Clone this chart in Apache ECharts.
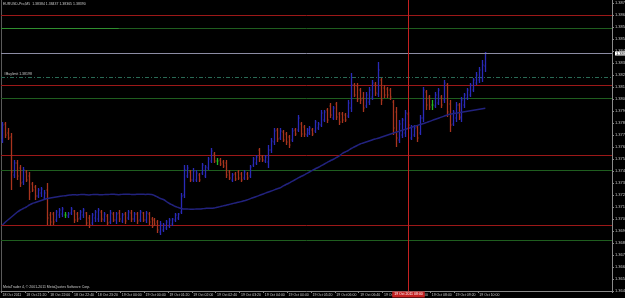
<!DOCTYPE html>
<html><head><meta charset="utf-8">
<script src="https://cdn.jsdelivr.net/npm/echarts@6/dist/echarts.min.js"></script>
<style>html,body{margin:0;padding:0;background:#000;}#c{width:625px;height:298px;}</style>
</head><body><div id="c"></div>
<script>
// ---- data ----
const timeLabels = ["18 Oct 2011","18 Oct 21:20","18 Oct 22:00","18 Oct 22:40","18 Oct 23:20","19 Oct 00:00","19 Oct 00:40","19 Oct 01:20","19 Oct 02:00","19 Oct 02:40","19 Oct 03:20","19 Oct 04:00","19 Oct 04:40","19 Oct 05:20","19 Oct 06:00","19 Oct 06:40","19 Oct 07:20","19 Oct 08:00","19 Oct 08:40","19 Oct 09:20","19 Oct 10:00"];
const open = [1.37694,1.37822,1.37750,1.37718,1.37414,1.37510,1.37470,1.37358,1.37438,1.37406,
1.37342,1.37318,1.37246,1.37270,1.37230,1.37294,1.37094,1.37102,1.37054,1.37094,
1.37102,1.37094,1.37086,1.37110,1.37126,1.37102,1.37070,1.37094,1.37110,1.37070,
1.37030,1.37070,1.37062,1.37118,1.37054,1.37086,1.37038,1.37102,1.37054,1.37110,
1.37046,1.37102,1.37070,1.37110,1.37062,1.37102,1.37054,1.37110,1.37054,1.37102,
1.37062,1.37054,1.37038,1.36958,1.36974,1.36990,1.37006,1.37022,1.37054,1.37070,
1.37118,1.37254,1.37406,1.37438,1.37374,1.37374,1.37414,1.37430,1.37406,1.37470,
1.37526,1.37582,1.37526,1.37534,1.37518,1.37510,1.37438,1.37374,1.37422,1.37438,
1.37422,1.37390,1.37422,1.37406,1.37494,1.37510,1.37614,1.37558,1.37526,1.37518,
1.37614,1.37678,1.37774,1.37710,1.37758,1.37742,1.37718,1.37694,1.37774,1.37774,
1.37822,1.37798,1.37734,1.37750,1.37774,1.37766,1.37790,1.37814,1.37854,1.37934,
1.37966,1.37870,1.37982,1.37902,1.37902,1.37894,1.37886,1.37950,1.38134,1.38126,
1.38094,1.38030,1.37966,1.37998,1.38038,1.38142,1.38062,1.38174,1.38110,1.38102,
1.38094,1.37998,1.37918,1.37694,1.37734,1.37750,1.37902,1.37710,1.37734,1.37798,
1.37750,1.37870,1.38078,1.38038,1.37974,1.37966,1.37990,1.38038,1.38014,1.38134,
1.37982,1.37822,1.37870,1.37974,1.37870,1.37974,1.38030,1.38054,1.38094,1.38150,
1.38174,1.38190,1.38286];
const high = [1.37838,1.37838,1.37790,1.37750,1.37534,1.37534,1.37494,1.37478,1.37454,1.37438,
1.37358,1.37334,1.37310,1.37318,1.37294,1.37350,1.37118,1.37118,1.37134,1.37150,
1.37158,1.37118,1.37118,1.37158,1.37134,1.37118,1.37134,1.37150,1.37118,1.37094,
1.37110,1.37134,1.37150,1.37134,1.37118,1.37102,1.37134,1.37118,1.37118,1.37134,
1.37110,1.37118,1.37134,1.37134,1.37118,1.37118,1.37134,1.37118,1.37126,1.37118,
1.37078,1.37070,1.37054,1.37046,1.37030,1.37054,1.37070,1.37070,1.37110,1.37110,
1.37270,1.37494,1.37494,1.37454,1.37470,1.37454,1.37430,1.37510,1.37494,1.37558,
1.37630,1.37598,1.37550,1.37550,1.37534,1.37534,1.37454,1.37430,1.37438,1.37454,
1.37438,1.37454,1.37438,1.37494,1.37558,1.37574,1.37630,1.37574,1.37574,1.37654,
1.37710,1.37790,1.37790,1.37790,1.37774,1.37758,1.37734,1.37790,1.37790,1.37894,
1.37838,1.37814,1.37790,1.37806,1.37790,1.37854,1.37838,1.37934,1.37934,1.37950,
1.37990,1.37966,1.37998,1.37918,1.37918,1.37910,1.38014,1.38230,1.38150,1.38150,
1.38110,1.38078,1.38078,1.38118,1.38174,1.38158,1.38318,1.38190,1.38134,1.38118,
1.38110,1.38014,1.37958,1.37854,1.37870,1.37934,1.37918,1.37814,1.37814,1.37814,
1.37894,1.38118,1.38094,1.38054,1.38014,1.38078,1.38110,1.38054,1.38174,1.38150,
1.38014,1.37934,1.37998,1.37990,1.38038,1.38070,1.38110,1.38150,1.38190,1.38238,
1.38278,1.38334,1.38398];
const low = [1.37670,1.37710,1.37694,1.37294,1.37390,1.37374,1.37318,1.37334,1.37358,1.37214,
1.37278,1.37214,1.37230,1.37238,1.37214,1.37014,1.37006,1.37014,1.37038,1.37070,
1.37078,1.37070,1.37070,1.37094,1.37030,1.37038,1.37054,1.37070,1.37006,1.36990,
1.37014,1.37038,1.37038,1.37038,1.37038,1.37014,1.37022,1.37038,1.37022,1.37038,
1.37030,1.37022,1.37054,1.37038,1.37038,1.37022,1.37038,1.37038,1.37030,1.37014,
1.36990,1.37006,1.36950,1.36934,1.36958,1.36974,1.36990,1.37006,1.37038,1.37054,
1.37102,1.37230,1.37390,1.37358,1.37358,1.37358,1.37358,1.37414,1.37390,1.37454,
1.37510,1.37510,1.37494,1.37486,1.37470,1.37390,1.37374,1.37358,1.37366,1.37374,
1.37358,1.37374,1.37374,1.37390,1.37478,1.37494,1.37518,1.37518,1.37510,1.37470,
1.37590,1.37654,1.37678,1.37694,1.37678,1.37654,1.37630,1.37678,1.37726,1.37758,
1.37718,1.37718,1.37718,1.37734,1.37726,1.37750,1.37774,1.37798,1.37838,1.37830,
1.37870,1.37854,1.37854,1.37814,1.37830,1.37838,1.37870,1.37918,1.38038,1.37998,
1.37982,1.37918,1.37950,1.37974,1.38014,1.38046,1.38038,1.37974,1.38030,1.38030,
1.38014,1.37734,1.37638,1.37670,1.37710,1.37718,1.37790,1.37694,1.37718,1.37678,
1.37734,1.37838,1.37934,1.37934,1.37934,1.37950,1.37974,1.37950,1.37990,1.37878,
1.37758,1.37806,1.37838,1.37854,1.37838,1.37950,1.38014,1.38038,1.38078,1.38134,
1.38150,1.38158,1.38238];
const close = [1.37814,1.37734,1.37710,1.37438,1.37510,1.37406,1.37350,1.37454,1.37374,1.37278,
1.37294,1.37246,1.37294,1.37302,1.37270,1.37070,1.37038,1.37038,1.37118,1.37134,
1.37142,1.37094,1.37102,1.37142,1.37054,1.37062,1.37118,1.37134,1.37030,1.37014,
1.37094,1.37118,1.37134,1.37062,1.37102,1.37030,1.37110,1.37054,1.37102,1.37062,
1.37094,1.37046,1.37118,1.37062,1.37102,1.37046,1.37118,1.37054,1.37110,1.37038,
1.37006,1.37022,1.36974,1.37022,1.37014,1.37038,1.37054,1.37062,1.37094,1.37102,
1.37246,1.37454,1.37470,1.37374,1.37446,1.37430,1.37374,1.37494,1.37478,1.37542,
1.37606,1.37526,1.37526,1.37502,1.37486,1.37414,1.37390,1.37414,1.37382,1.37390,
1.37374,1.37438,1.37390,1.37478,1.37542,1.37558,1.37542,1.37534,1.37558,1.37614,
1.37686,1.37766,1.37702,1.37766,1.37694,1.37678,1.37654,1.37766,1.37742,1.37870,
1.37742,1.37742,1.37774,1.37790,1.37742,1.37838,1.37822,1.37910,1.37918,1.37854,
1.37894,1.37950,1.37878,1.37838,1.37854,1.37854,1.37990,1.38134,1.38054,1.38022,
1.38014,1.37950,1.38054,1.38094,1.38150,1.38070,1.38254,1.38014,1.38054,1.38054,
1.38038,1.37790,1.37710,1.37822,1.37854,1.37910,1.37814,1.37798,1.37790,1.37710,
1.37870,1.38094,1.37974,1.37958,1.37974,1.38054,1.38094,1.37974,1.38150,1.37918,
1.37814,1.37918,1.37974,1.37878,1.38014,1.38054,1.38094,1.38134,1.38174,1.38214,
1.38254,1.38294,1.38390];
const ma = [1.37014,1.37038,1.37058,1.37078,1.37098,1.37118,1.37134,1.37146,1.37158,1.37174,
1.37186,1.37194,1.37202,1.37210,1.37218,1.37226,1.37230,1.37234,1.37238,1.37242,
1.37246,1.37248,1.37252,1.37254,1.37256,1.37255,1.37257,1.37258,1.37256,1.37255,
1.37257,1.37259,1.37258,1.37256,1.37257,1.37258,1.37259,1.37260,1.37258,1.37257,
1.37259,1.37260,1.37261,1.37259,1.37258,1.37260,1.37261,1.37260,1.37259,1.37260,
1.37258,1.37250,1.37238,1.37226,1.37218,1.37202,1.37186,1.37174,1.37162,1.37154,
1.37146,1.37142,1.37142,1.37140,1.37140,1.37142,1.37142,1.37144,1.37146,1.37148,
1.37148,1.37150,1.37156,1.37161,1.37167,1.37172,1.37178,1.37184,1.37190,1.37196,
1.37201,1.37208,1.37214,1.37223,1.37232,1.37240,1.37249,1.37258,1.37267,1.37276,
1.37284,1.37293,1.37302,1.37310,1.37323,1.37336,1.37348,1.37361,1.37374,1.37387,
1.37400,1.37412,1.37425,1.37438,1.37451,1.37464,1.37476,1.37489,1.37502,1.37515,
1.37528,1.37540,1.37553,1.37566,1.37586,1.37598,1.37610,1.37626,1.37638,1.37650,
1.37662,1.37670,1.37678,1.37686,1.37694,1.37702,1.37708,1.37716,1.37724,1.37732,
1.37740,1.37748,1.37756,1.37763,1.37771,1.37779,1.37786,1.37794,1.37802,1.37809,
1.37817,1.37824,1.37832,1.37840,1.37849,1.37858,1.37866,1.37875,1.37883,1.37892,
1.37900,1.37904,1.37908,1.37912,1.37916,1.37920,1.37924,1.37928,1.37932,1.37936,
1.37940,1.37944,1.37948];
const redLevels = [1.38694, 1.38134, 1.37574, 1.37014];
const greenLevels = [1.38590, 1.38030, 1.37454, 1.36894];
const brightGreenSpan = [0, 39];
const bidPrice = 1.38390;
const buyLimitPrice = 1.38198;
const markerIndex = 136;
const markerLabel = "19 Oct 2011 08:00";
const priceMin = 1.36486, priceMax = 1.38814, priceStep = 0.00096;
const totalSlots = 205;
const titleText = "EURUSD-Pro,M5  1.38384 1.38437 1.38365 1.38390";
const copyText = "MetaTrader 4, \u00a9 2001-2011 MetaQuotes Software Corp.";
const buyLimitText = "#Buylimit 1.38198";

// ---- categories (5-minute slots) ----
const mon = ["Jan","Feb","Mar","Apr","May","Jun","Jul","Aug","Sep","Oct","Nov","Dec"];
const categories = [];
const t0 = Date.UTC(2011, 9, 18, 20, 40);
for (let i = 0; i < totalSlots; i++) {
  const d = new Date(t0 + i * 300000);
  categories.push(d.getUTCDate() + " " + mon[d.getUTCMonth()] + " " +
    String(d.getUTCHours()).padStart(2, "0") + ":" + String(d.getUTCMinutes()).padStart(2, "0"));
}
const bars = open.map((o, i) => [i, o, high[i], low[i], close[i]]);

const UP = "#2a2ab8", DOWN = "#a8341e", DOJI = "#22b822";
const FONT = "Liberation Sans";
function renderBar(params, api) {
  const i = api.value(0), o = api.value(1), h = api.value(2), l = api.value(3), c = api.value(4);
  const ph = api.coord([i, h]), pl = api.coord([i, l]), po = api.coord([i, o]), pc = api.coord([i, c]);
  const x = Math.round(ph[0]) + 0.5;
  const col = c > o ? UP : (c < o ? DOWN : DOJI);
  return { type: "group", children: [
    { type: "line", shape: { x1: x, y1: ph[1], x2: x, y2: pl[1] }, style: { stroke: col, lineWidth: 1.3 } },
    { type: "line", shape: { x1: x - 1, y1: po[1], x2: x, y2: po[1] }, style: { stroke: col, lineWidth: 1 } },
    { type: "line", shape: { x1: x, y1: pc[1], x2: x + 1, y2: pc[1] }, style: { stroke: col, lineWidth: 1 } }
  ]};
}
// horizontal price level across the plot, positioned by the y scale
function levelRenderer(color, dash, labelFn) {
  return function (params, api) {
    const cs = params.coordSys;
    const y = Math.round(api.coord([0, api.value(1)])[1]) + 0.5;
    const children = [{ type: "line", shape: { x1: cs.x, y1: y, x2: cs.x + cs.width, y2: y },
      style: { stroke: color, lineWidth: 1, lineDash: dash || null } }];
    if (labelFn) children.push(labelFn(cs, y, api.value(1)));
    return { type: "group", children: children };
  };
}
function segmentRenderer(color) {
  return function (params, api) {
    const a = api.coord([api.value(0), api.value(1)]), b = api.coord([api.value(2), api.value(1)]);
    const y = Math.round(a[1]) + 0.5;
    return { type: "line", shape: { x1: params.coordSys.x, y1: y, x2: b[0], y2: y }, style: { stroke: color, lineWidth: 1 } };
  };
}
function markerRenderer(params, api) {
  const cs = params.coordSys;
  const x = Math.round(api.coord([api.value(0), priceMin])[0]) + 0.5;
  return { type: "group", children: [
    { type: "line", shape: { x1: x, y1: cs.y, x2: x, y2: cs.y + cs.height }, style: { stroke: "#c42020", lineWidth: 1 } },
    { type: "text", x: x, y: cs.y + cs.height + 0.5, style: { text: markerLabel, fill: "#fff", backgroundColor: "#c42020",
      padding: [1, 2, 1, 2], font: "3.5px " + FONT, align: "center", verticalAlign: "top" } }
  ]};
}
const labelInterval = (idx) => idx % 8 === 0 && idx / 8 < timeLabels.length;
const lv = arr => arr.map(p => [0, p]);

const chart = echarts.init(document.getElementById("c"), null, { renderer: "canvas" });
chart.setOption({
  backgroundColor: "#000",
  animation: false,
  grid: { left: 1, right: 13, top: 0, bottom: 7, containLabel: false, outerBoundsMode: "none" },
  xAxis: {
    type: "category", data: categories, boundaryGap: true,
    axisLine: { lineStyle: { color: "#8a8a8a", width: 1 } },
    axisTick: { show: true, interval: labelInterval, length: 2, lineStyle: { color: "#8a8a8a" } },
    axisLabel: { interval: labelInterval, formatter: (v, idx) => timeLabels[idx / 8], align: "left",
      color: "#c8c8c8", fontSize: 3.5, fontFamily: FONT, margin: 2 },
    splitLine: { show: false }
  },
  yAxis: {
    type: "value", position: "right", min: priceMin, max: priceMax, interval: priceStep,
    axisLine: { show: true, lineStyle: { color: "#8a8a8a", width: 1 } },
    axisTick: { show: true, length: 2, lineStyle: { color: "#8a8a8a" } },
    axisLabel: { color: "#c8c8c8", fontSize: 4, fontFamily: FONT, margin: 3, showMaxLabel: false,
      formatter: v => v.toFixed(5) },
    splitLine: { show: false }
  },
  series: [
    { type: "custom", data: lv(greenLevels), encode: { x: 0, y: 1 }, renderItem: levelRenderer("#1f5e1f"), z: 1, silent: true, clip: false },
    { type: "custom", data: [[brightGreenSpan[0], greenLevels[0], brightGreenSpan[1]]], encode: { x: [0, 2], y: 1 }, renderItem: segmentRenderer("#2f8f2f"), z: 1, silent: true, clip: false },
    { type: "custom", data: lv(redLevels), encode: { x: 0, y: 1 }, renderItem: levelRenderer("#9c1818"), z: 1, silent: true, clip: false },
    { type: "custom", data: lv([buyLimitPrice]), encode: { x: 0, y: 1 }, z: 1, silent: true, clip: false,
      renderItem: levelRenderer("#2a6a55", [4, 2, 1, 2], (cs, y) => ({ type: "text", x: cs.x + 3, y: y - 1,
        style: { text: buyLimitText, fill: "#c8c8c8", font: "3.5px " + FONT, verticalAlign: "bottom" } })) },
    { type: "custom", data: lv([bidPrice]), encode: { x: 0, y: 1 }, z: 6, silent: true, clip: false,
      renderItem: levelRenderer("#8c8ca4", null, (cs, y, v) => ({ type: "text", x: cs.x + cs.width + 3, y: y,
        style: { text: v.toFixed(5), fill: "#000", backgroundColor: "#fff", padding: [0, 1, 0, 1], font: "4px " + FONT, verticalAlign: "middle" } })) },
    { type: "custom", renderItem: renderBar, data: bars, encode: { x: 0, y: [1, 2, 3, 4] }, z: 3, clip: true },
    { type: "line", data: ma, showSymbol: false, smooth: true, z: 4, color: "#22227e",
      lineStyle: { color: "#22227e", width: 1.5 } },
    { type: "custom", data: [[markerIndex, priceMin]], encode: { x: 0, y: 1 }, renderItem: markerRenderer, z: 7, silent: true, clip: false }
  ],
  graphic: [
    { type: "text", left: 3, top: 2, style: { text: titleText, fill: "#c8c8c8", font: "3.5px " + FONT } },
    { type: "text", left: 3, top: 285, style: { text: copyText, fill: "#c8c8c8", font: "3.5px " + FONT } },
    { type: "line", shape: { x1: 1.5, y1: 0, x2: 1.5, y2: 291 }, style: { stroke: "#5a5a5a", lineWidth: 1 } }
  ]
});
</script></body></html>
